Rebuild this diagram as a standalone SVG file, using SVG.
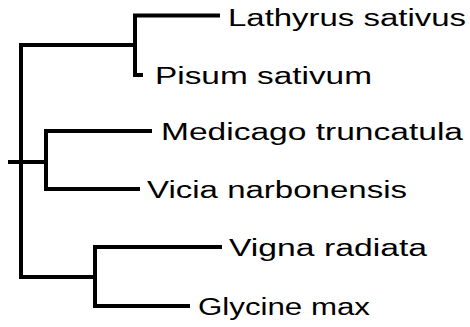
<svg xmlns="http://www.w3.org/2000/svg" width="470" height="327" viewBox="0 0 470 327">
<style>
.edge{fill:none;stroke:#000;stroke-width:4;stroke-linejoin:miter;stroke-linecap:butt}
.lbl{font-family:"Liberation Sans",Arial,sans-serif;font-size:23px;fill:#000}
</style>
<rect width="470" height="327" fill="#fff"/>
<g id="connectors">
<path class="edge" d="M8,162H46"/>
<path class="edge" d="M21,43V279"/>
<path class="edge" d="M21,45H135"/>
<path class="edge" d="M220,15.5H135V75H143"/>
<path class="edge" d="M152,131H46V189H140"/>
<path class="edge" d="M21,277H95"/>
<path class="edge" d="M222,247H95V306H190"/>
</g>
<g id="lathyrus-sativus"><text class="lbl" x="228" y="25.5" textLength="238" lengthAdjust="spacingAndGlyphs">Lathyrus sativus</text></g>
<g id="pisum-sativum"><text class="lbl" x="155" y="84" textLength="217" lengthAdjust="spacingAndGlyphs">Pisum sativum</text></g>
<g id="medicago-truncatula"><text class="lbl" x="161" y="140" textLength="302" lengthAdjust="spacingAndGlyphs">Medicago truncatula</text></g>
<g id="vicia-narbonensis"><text class="lbl" x="147" y="197.5" textLength="260" lengthAdjust="spacingAndGlyphs">Vicia narbonensis</text></g>
<g id="vigna-radiata"><text class="lbl" x="229" y="256" textLength="198" lengthAdjust="spacingAndGlyphs">Vigna radiata</text></g>
<g id="glycine-max"><text class="lbl" x="198" y="315" textLength="172" lengthAdjust="spacingAndGlyphs">Glycine max</text></g>
</svg>
